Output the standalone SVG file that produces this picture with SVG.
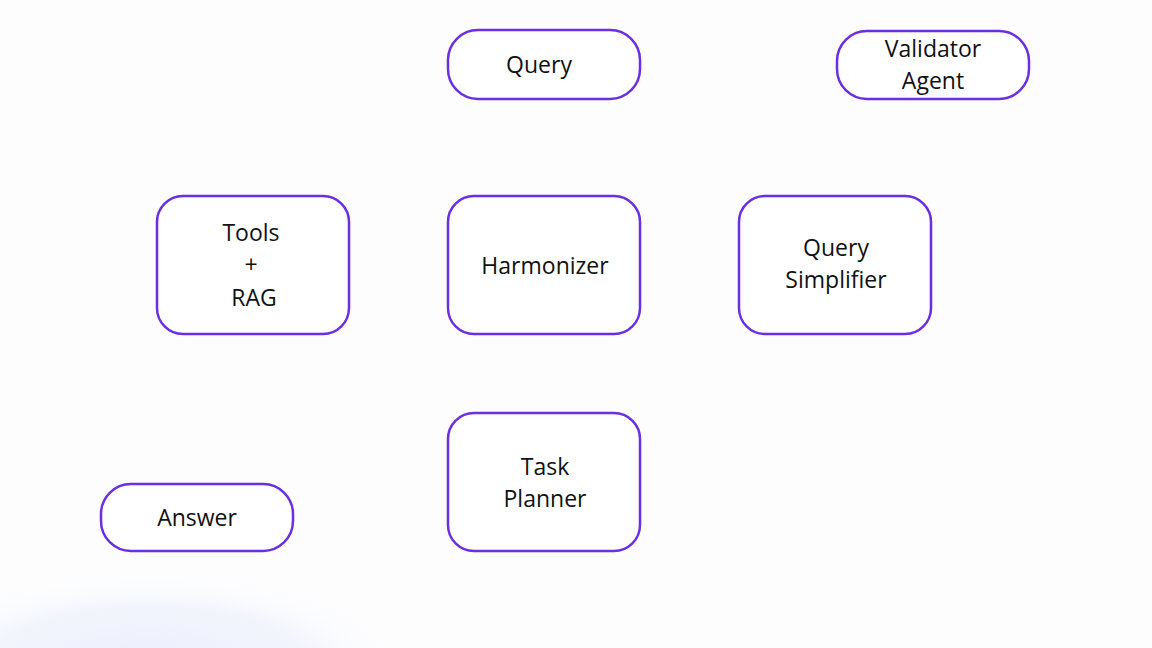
<svg xmlns="http://www.w3.org/2000/svg" width="1152" height="648" viewBox="0 0 1152 648">
<defs>
<radialGradient id="glow" cx="150" cy="660" r="260" gradientUnits="userSpaceOnUse" gradientTransform="translate(150 660) scale(1 0.35) translate(-150 -660)">
<stop offset="0" stop-color="#eceffd"/>
<stop offset="0.6" stop-color="#f3f5fd"/>
<stop offset="1" stop-color="#ffffff" stop-opacity="0"/>
</radialGradient>
<style>
.box{fill:#ffffff;stroke:#6a2fe0;stroke-width:2.5}
.lbl{font-family:"Open Sans","Noto Sans","Liberation Sans",sans-serif;font-size:23px;fill:#111111;text-anchor:middle}
</style>
</defs>
<rect width="1152" height="648" fill="#fdfdfe"/>
<rect x="0" y="540" width="500" height="108" fill="url(#glow)"/>
<g id="connectors"></g>
<g id="query">
<rect class="box" x="448" y="30" width="192" height="69" rx="30"/>
<text class="lbl" x="539" y="73">Query</text>
</g>
<g id="validator">
<rect class="box" x="837" y="31" width="192" height="68" rx="30"/>
<text class="lbl" x="933" y="57">Validator</text>
<text class="lbl" x="933" y="89">Agent</text>
</g>
<g id="tools">
<rect class="box" x="157" y="196" width="192" height="138" rx="26"/>
<text class="lbl" x="251" y="241">Tools</text>
<text class="lbl" x="251" y="273">+</text>
<text class="lbl" x="254" y="306">RAG</text>
</g>
<g id="harmonizer">
<rect class="box" x="448" y="196" width="192" height="138" rx="26"/>
<text class="lbl" x="545" y="274">Harmonizer</text>
</g>
<g id="simplifier">
<rect class="box" x="739" y="196" width="192" height="138" rx="26"/>
<text class="lbl" x="836" y="256">Query</text>
<text class="lbl" x="836" y="288">Simplifier</text>
</g>
<g id="planner">
<rect class="box" x="448" y="413" width="192" height="138" rx="26"/>
<text class="lbl" x="545" y="475">Task</text>
<text class="lbl" x="545" y="507">Planner</text>
</g>
<g id="answer">
<rect class="box" x="101" y="484" width="192" height="67" rx="30"/>
<text class="lbl" x="197" y="526">Answer</text>
</g>
</svg>
